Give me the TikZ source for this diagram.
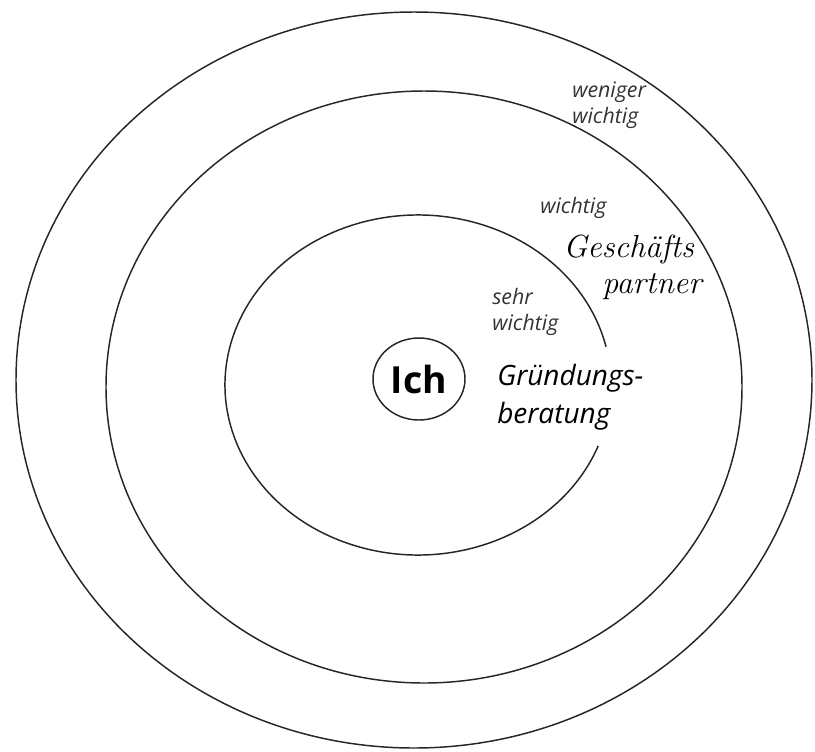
\documentclass[tikz,border=0pt]{standalone}
\usepackage{fontspec}
\newfontfamily\labelfont{Open Sans}
\usetikzlibrary{positioning,shapes.geometric}

\tikzset{
  ring/.style={draw=black!85, line width=1.1pt},
  level/.style={font=\labelfont\fontsize{16}{19.5}\selectfont\itshape, text=black!80,
    align=left, inner sep=0pt, anchor=base west},
  hand/.style={font=\rmfamily\itshape\fontsize{24}{27}\selectfont, inner sep=0pt, anchor=base west},
  entry/.style={font=\labelfont\fontsize{21}{28.5}\selectfont\itshape, align=left,
    inner sep=0pt, anchor=base west}
}

\begin{document}
\begin{tikzpicture}[x=0.75pt, y=-0.75pt]
  \useasboundingbox (0,0) rectangle (815,751);

  % Rings
  \draw[ring] (414,380) ellipse [x radius=398, y radius=368];
  \draw[ring] (424,387) ellipse [x radius=318, y radius=296];
  \draw[ring] ([shift={(21:193 and 170)}]418,385)
    arc [start angle=21, end angle=347, x radius=193, y radius=170];

  % Centre
  \node[ellipse, draw=black!85, line width=1.1pt, minimum width=69pt, minimum height=61.5pt,
    inner sep=0pt, font=\labelfont\bfseries\fontsize{28}{32}\selectfont] (ich) at (419,379) {Ich};

  % Levels (base = last line)
  \node[level] (weniger) at (572,123) {weniger\\wichtig};
  \node[level] (wichtig) at (540,213) {wichtig};
  \node[level] (sehr) at (492,330) {sehr\\wichtig};

  % Entries
  \node[entry] (beratung) at (497,423) {Gründungs-\\beratung};
  \node[hand] (geschaefts) at (563,257) {Geschäfts};
  \node[hand] (partner) at (602,293) {partner};
\end{tikzpicture}
\end{document}
